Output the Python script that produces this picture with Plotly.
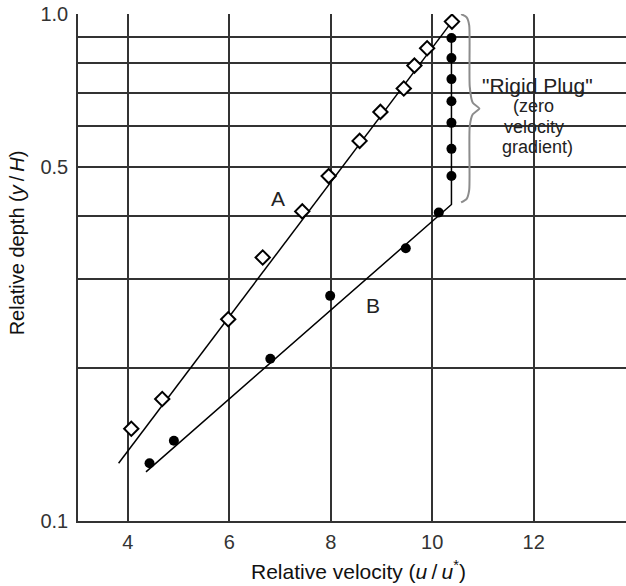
import math
import plotly.graph_objects as go

# ---- data ----
a_u = [4.07, 4.68, 5.98, 6.66, 7.44, 7.96, 8.57, 8.98, 9.44, 9.65, 9.90, 10.39]
a_y = [0.152, 0.174, 0.250, 0.331, 0.408, 0.479, 0.562, 0.641, 0.713, 0.791, 0.856, 0.966]

b_u = [4.43, 4.91, 6.81, 7.99, 9.48, 10.13, 10.38, 10.38, 10.38, 10.38, 10.38, 10.38, 10.38]
b_y = [0.130, 0.144, 0.209, 0.278, 0.345, 0.406, 0.479, 0.542, 0.610, 0.673, 0.744, 0.819, 0.897]

line_a_u = [3.82, 10.39]
line_a_y = [0.130, 0.966]
line_b_u = [4.36, 10.38, 10.38]
line_b_y = [0.125, 0.421, 0.897]

brace_u = [10.57, 10.68, 10.73, 10.74, 10.80, 10.93, 10.80, 10.74, 10.73, 10.68, 10.57]
brace_y = [1.0, 0.985, 0.95, 0.72, 0.668, 0.651, 0.634, 0.60, 0.45, 0.432, 0.425]

x_ticks = [4, 6, 8, 10, 12]
y_ticks = [0.1, 0.5, 1.0]
y_labels = ["0.1", "0.5", "1.0"]
y_minor = [0.2, 0.3, 0.4, 0.6, 0.7, 0.8, 0.9]

XR = [3.02, 13.82]
FONT = "Liberation Sans, Arial, sans-serif"
GRID = "#333333"

fig = go.Figure()
fig.add_trace(go.Scatter(x=line_a_u, y=line_a_y, mode="lines",
                         line=dict(color="black", width=1.5), hoverinfo="skip"))
fig.add_trace(go.Scatter(x=line_b_u, y=line_b_y, mode="lines",
                         line=dict(color="black", width=1.5), hoverinfo="skip"))
fig.add_trace(go.Scatter(x=brace_u, y=brace_y, mode="lines",
                         line=dict(color="#8c8c8c", width=2, shape="spline", smoothing=0.6),
                         hoverinfo="skip"))
fig.add_trace(go.Scatter(x=a_u, y=a_y, mode="markers",
                         marker=dict(symbol="diamond", size=11, color="white",
                                     line=dict(color="black", width=2))))
fig.add_trace(go.Scatter(x=b_u, y=b_y, mode="markers",
                         marker=dict(symbol="circle", size=10, color="black")))

# white box behind the "Rigid Plug" label (log axis -> log10 coords)
fig.add_shape(type="rect", xref="x", yref="y", x0=10.95, x1=13.21,
              y0=math.log10(0.5085), y1=math.log10(0.768),
              fillcolor="white", line=dict(width=0), layer="above")

def ann(text, u, yv, size):
    fig.add_annotation(x=u, y=math.log10(yv), xref="x", yref="y", text=text,
                       showarrow=False, font=dict(family=FONT, size=size, color="#222"))

ann("A", 6.96, 0.433, 21)
ann("B", 8.83, 0.2665, 21)
ann('"Rigid Plug"', 12.07, 0.722, 21)
ann("(zero", 12.0, 0.658, 18)
ann("velocity", 12.0, 0.599, 18)
ann("gradient)", 12.07, 0.547, 18)

fig.add_annotation(xref="paper", yref="paper", x=(358 - 78) / 548, y=-49.3 / 506.7,
                   text="Relative velocity (<i>u</i>\u2009/\u2009<i>u</i><sup>*</sup>)",
                   showarrow=False, font=dict(family=FONT, size=21, color="#111"),
                   xanchor="center", yanchor="middle")
fig.add_annotation(xref="paper", yref="paper", x=(16.7 - 78) / 548, y=(520.7 - 242.5) / 506.7,
                   text="Relative depth (<i>y</i>\u2009/\u2009<i>H</i>)", textangle=-90,
                   showarrow=False, font=dict(family=FONT, size=20, color="#111"),
                   xanchor="center", yanchor="middle")

fig.update_layout(
    width=626, height=586,
    margin=dict(l=78, r=0, t=14, b=65),
    paper_bgcolor="white", plot_bgcolor="white",
    showlegend=False,
    font=dict(family=FONT, size=20, color="#222"),
    xaxis=dict(range=XR, tickvals=x_ticks, ticktext=[str(v) for v in x_ticks],
               showgrid=True, gridcolor=GRID, gridwidth=1.5,
               showline=True, linecolor=GRID, linewidth=1.5,
               zeroline=False, ticks="", ticklabelstandoff=2,
               tickfont=dict(family=FONT, size=20, color="#333")),
    yaxis=dict(type="log", range=[-1, 0], tickvals=y_ticks, ticktext=y_labels,
               showgrid=True, gridcolor=GRID, gridwidth=1.5,
               showline=True, linecolor=GRID, linewidth=1.5,
               zeroline=False, ticks="", ticklabelstandoff=4,
               tickfont=dict(family=FONT, size=20, color="#333"),
               minor=dict(tickvals=y_minor, showgrid=True, gridcolor=GRID,
                          gridwidth=1.5, ticks="")),
)

fig.write_html("out.html")
